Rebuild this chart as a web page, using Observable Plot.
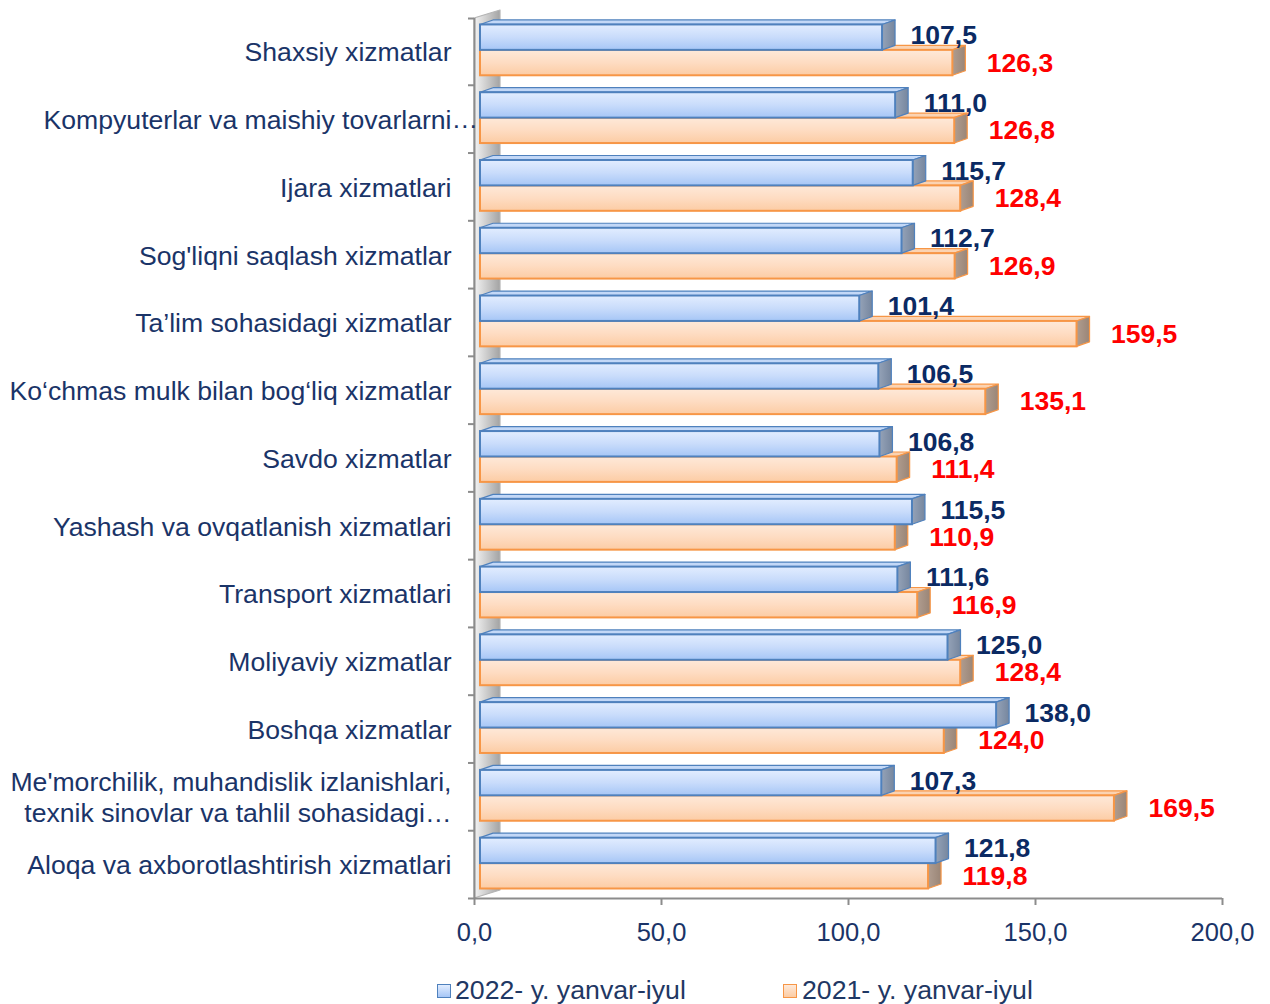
<!DOCTYPE html>
<html><head><meta charset="utf-8">
<script src="https://cdn.jsdelivr.net/npm/d3@7"></script>
<script src="https://cdn.jsdelivr.net/npm/@observablehq/plot@0.6"></script>
<style>
body{margin:0;background:#fff;font-family:"Liberation Sans",Arial,sans-serif}
#wrap{position:relative;width:1270px;height:1004px;overflow:hidden}
.leg{position:absolute;top:975px;font-size:26.7px;color:#1F3864;line-height:30px;white-space:nowrap}
.sw{position:absolute;top:984px;width:14px;height:14px;box-sizing:border-box}
</style></head><body><div id="wrap"></div><script>
const categories = [
  "Shaxsiy xizmatlar",
  "Kompyuterlar va maishiy tovarlarni…",
  "Ijara xizmatlari",
  "Sog'liqni saqlash xizmatlar",
  "Ta’lim sohasidagi xizmatlar",
  "Ko‘chmas mulk bilan bog‘liq xizmatlar",
  "Savdo xizmatlar",
  "Yashash va ovqatlanish xizmatlari",
  "Transport xizmatlari",
  "Moliyaviy xizmatlar",
  "Boshqa xizmatlar",
  "Me'morchilik, muhandislik izlanishlari,\ntexnik sinovlar va tahlil sohasidagi…",
  "Aloqa va axborotlashtirish xizmatlari"
];
const values2022 = [107.5, 111.0, 115.7, 112.7, 101.4, 106.5, 106.8, 115.5, 111.6, 125.0, 138.0, 107.3, 121.8];
const values2021 = [126.3, 126.8, 128.4, 126.9, 159.5, 135.1, 111.4, 110.9, 116.9, 128.4, 124.0, 169.5, 119.8];
const seriesNames = ["2022- y. yanvar-iyul", "2021- y. yanvar-iyul"];
const xTicks = [0, 50, 100, 150, 200];

const fmt = v => v.toFixed(1).replace(".", ",");

// pixel geometry helpers
const W = 1270, H = 960, mL = 474, mR = 48, mT = 17, mB = 62;
const n = categories.length;
const kx = (W - mL - mR) / 200;          // px per x unit
const ky = (H - mT - mB) / n;            // px per row
const DX = 13 / kx, DY = 4.5 / ky;       // 3D depth in data units
const WALLX = 26 / kx, WALLY = 8 / ky;

const bands = {blue: [0.11, 0.485], orange: [0.485, 0.86]};
function rows(vals, key) {
  return vals.map((v, i) => ({key: key + i, i, v, yTop: i + bands[key][0], yBot: i + bands[key][1]}));
}
const rBlue = rows(values2022, "blue");
const rOrange = rows(values2021, "orange");
const topPts = rs => rs.flatMap(r => [
  {key: r.key, y: r.yTop, x1: 0, x2: r.v},
  {key: r.key, y: r.yTop - DY, x1: DX, x2: r.v + DX}
]);
const sidePts = rs => rs.flatMap(r => [
  {key: r.key, x: r.v, y1: r.yTop, y2: r.yBot},
  {key: r.key, x: r.v + DX, y1: r.yTop - DY, y2: r.yBot - DY}
]);

const catRows = categories.map((c, i) => {
  const single = !c.includes("\n") && c.endsWith("…");
  return {i, text: single ? c.slice(0, -1) : c, ell: single};
});

const wall = [
  {x: 0, y1: n, y2: 0.015},
  {x: WALLX, y1: n - WALLY, y2: 0.015 - WALLY}
];
const boundaries = d3.range(n + 1).map(i => i);

function barMarks(rs, cfg) {
  return [
    Plot.areaX(topPts(rs), {y: "y", x1: "x1", x2: "x2", z: "key", fill: cfg.topFill, stroke: cfg.stroke, strokeWidth: 1.2, dx: 6, curve: "linear"}),
    Plot.areaY(sidePts(rs), {x: "x", y1: "y1", y2: "y2", z: "key", fill: cfg.sideFill, stroke: cfg.stroke, strokeWidth: 1.2, dx: 6, curve: "linear"}),
    Plot.rect(rs, {x1: 0, x2: "v", y1: "yTop", y2: "yBot", fill: cfg.frontFill, stroke: cfg.stroke, strokeWidth: 2, dx: 6})
  ];
}

const svg = Plot.plot({
  width: W, height: H,
  marginLeft: mL, marginRight: mR, marginTop: mT, marginBottom: mB,
  style: {background: "#fff", fontFamily: "'Liberation Sans', Arial, sans-serif", overflow: "visible"},
  x: {domain: [0, 200], axis: null},
  y: {domain: [n, 0], axis: null},
  marks: [
    Plot.areaY(wall, {x: "x", y1: "y1", y2: "y2", fill: "url(#gWall)", stroke: "#b4b4b4", strokeWidth: 1.2, curve: "linear"}),
    Plot.ruleX([0], {y1: 0.015, y2: n, stroke: "#8c8c8c", strokeWidth: 2}),
    Plot.ruleY([n], {x1: 0, x2: 200, stroke: "#8c8c8c", strokeWidth: 2}),
    Plot.ruleY(boundaries, {y: d => d + 0.015 * (d === 0), x1: 0, x2: -6 / kx, stroke: "#8c8c8c", strokeWidth: 2}),
    Plot.ruleX(xTicks, {x: d => d, y1: n, y2: n + 7 / ky, stroke: "#8c8c8c", strokeWidth: 2}),
    ...barMarks(rOrange, {topFill: "#fbd3b2", sideFill: "url(#gSideO)", frontFill: "url(#gOrange)", stroke: "#f79646"}),
    ...barMarks(rBlue, {topFill: "#c3d8f7", sideFill: "url(#gSideB)", frontFill: "url(#gBlue)", stroke: "#4f81bd"}),
    Plot.text(rBlue, {x: "v", y: d => (d.yTop + d.yBot) / 2, text: d => fmt(d.v), dx: 34, dy: -2, textAnchor: "start", fontSize: 26.5, fontWeight: "bold", fill: "#0b2a63"}),
    Plot.text(rOrange, {x: "v", y: d => (d.yTop + d.yBot) / 2, text: d => fmt(d.v), dx: 40, textAnchor: "start", fontSize: 26.5, fontWeight: "bold", fill: "#ff0000"}),
    Plot.text(catRows, {x: 0, y: d => d.i + 0.5, text: "text", dx: -23, textAnchor: "end", fontSize: 26.6, lineHeight: 1.16, fill: "#1a3468"}),
    Plot.text(catRows.filter(d => d.ell), {x: 0, y: d => d.i + 0.5, text: () => "…", dx: -23, textAnchor: "start", fontSize: 26.6, fill: "#1a3468"}),
    Plot.text(xTicks, {x: d => d, y: n, text: d => fmt(d), dy: 34, fontSize: 25.5, fill: "#1a3468"})
  ]
});

const defs = d3.select(svg).insert("defs", ":first-child");
function grad(id, stops, x2 = 0, y2 = 1) {
  const g = defs.append("linearGradient").attr("id", id).attr("x1", 0).attr("y1", 0).attr("x2", x2).attr("y2", y2);
  stops.forEach(([o, c]) => g.append("stop").attr("offset", o).attr("stop-color", c));
}
grad("gBlue", [[0, "#e2edff"], [0.5, "#c9dcfb"], [1, "#a6c6f6"]]);
grad("gOrange", [[0, "#fee9d9"], [0.5, "#fedcc2"], [1, "#fccca4"]]);
grad("gSideB", [[0, "#95a3b8"], [1, "#76869e"]], 1, 0);
grad("gSideO", [[0, "#b09d90"], [1, "#9a8576"]], 1, 0);
grad("gWall", [[0, "#f4f4f4"], [1, "#a3a3a3"]], 1, 0);

const wrap = document.getElementById("wrap");
wrap.appendChild(svg);
svg.style.position = "absolute"; svg.style.left = "0"; svg.style.top = "0";

const legendItems = [
  {name: seriesNames[0], sw: 437, tx: 455, bg: "linear-gradient(#e2edff,#a6c6f6)", bd: "#4f81bd"},
  {name: seriesNames[1], sw: 783, tx: 802, bg: "linear-gradient(#fee9d9,#fccca4)", bd: "#f79646"}
];
legendItems.forEach(it => {
  const s = document.createElement("div");
  s.className = "sw"; s.style.left = it.sw + "px"; s.style.background = it.bg; s.style.border = "1.5px solid " + it.bd;
  wrap.appendChild(s);
  const t = document.createElement("div");
  t.className = "leg"; t.style.left = it.tx + "px"; t.textContent = it.name;
  wrap.appendChild(t);
});
</script></body></html>
